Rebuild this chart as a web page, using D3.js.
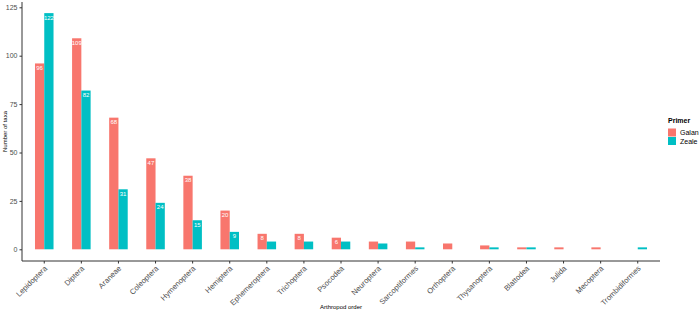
<!DOCTYPE html>
<html>
<head>
<meta charset="utf-8">
<script src="https://cdn.jsdelivr.net/npm/d3@7"></script>
<style>
  body { margin: 0; background: #fff; }
  text { font-family: "Liberation Sans", Arial, sans-serif; }
</style>
</head>
<body>
<div id="container"></div>
<script>
let orders = ["Lepidoptera", "Diptera", "Araneae", "Coleoptera", "Hymenoptera", "Hemiptera",
  "Ephemeroptera", "Trichoptera", "Psocodea", "Neuroptera", "Sarcoptiformes", "Orthoptera",
  "Thysanoptera", "Blattodea", "Julida", "Mecoptera", "Trombidiformes"];
let primers = ["Galan", "Zeale"];
let galan = [96, 109, 68, 47, 38, 20, 8, 8, 6, 4, 4, 3, 2, 1, 1, 1, null];
let zeale = [122, 82, 31, 24, 15, 9, 4, 4, 4, 3, 1, null, 1, 1, null, null, 1];
let yTicks = [0, 25, 50, 75, 100, 125];
let colors = ["#F8766D", "#00BFC4"];

let w = 700;
let h = 314;
let padL = 22, padR = 660, padT = 2, padB = 261;

let viz = d3.select("#container")
  .append("svg")
  .attr("width", w)
  .attr("height", h);

// x scale: discrete with 0.6 expansion like ggplot
let step = (padR - padL) / (orders.length - 1 + 1.2);
let xScale = d3.scaleBand().domain(orders)
  .range([padL + 0.1 * step, padR - 0.1 * step])
  .paddingInner(0).paddingOuter(0);
let inner = d3.scaleBand().domain(primers).range([0, step * 0.5]);

let yScale = d3.scaleLinear().domain([0, 125]).range([249.3, 7.3]);

let data = [];
orders.forEach(function(o, i) {
  [galan[i], zeale[i]].forEach(function(v, j) {
    if (v != null) data.push({ order: o, primer: primers[j], value: v, k: j });
  });
});

let bars = viz.append("g");
bars.selectAll("rect").data(data).enter().append("rect")
  .attr("x", function(d) { return xScale(d.order) + step * 0.25 + inner(d.primer); })
  .attr("width", inner.bandwidth())
  .attr("y", function(d) { return yScale(d.value); })
  .attr("height", function(d) { return yScale(0) - yScale(d.value); })
  .attr("fill", function(d) { return colors[d.k]; });

// value labels, only where the bar is tall enough to hold them
bars.selectAll("text").data(data.filter(function(d) { return d.value >= 5; })).enter().append("text")
  .attr("x", function(d) { return xScale(d.order) + step * 0.25 + inner(d.primer) + inner.bandwidth() / 2; })
  .attr("y", function(d) { return yScale(d.value) + 6.5; })
  .attr("text-anchor", "middle")
  .attr("font-size", 6)
  .attr("fill", "#fff")
  .text(function(d) { return d.value; });

// y axis
let yAxisGroup = viz.append("g").attr("transform", "translate(" + padL + ",0)")
  .call(d3.axisLeft(yScale).tickValues(yTicks).tickSize(2.5).tickPadding(2));
yAxisGroup.select(".domain").attr("d", "M0," + padT + "V" + padB).attr("stroke", "#333");
yAxisGroup.selectAll(".tick line").attr("stroke", "#333");
yAxisGroup.selectAll(".tick text").attr("font-size", 7).attr("fill", "#4d4d4d").attr("font-family", null);

// x axis
let xAxisGroup = viz.append("g").attr("transform", "translate(0," + padB + ")")
  .call(d3.axisBottom(xScale).tickSize(2.5).tickPadding(2));
xAxisGroup.select(".domain").attr("d", "M" + padL + ",0H" + padR).attr("stroke", "#333");
xAxisGroup.selectAll(".tick line").attr("stroke", "#333");
xAxisGroup.selectAll(".tick text")
  .attr("font-size", 7.6).attr("fill", "#4d4d4d").attr("font-family", null)
  .attr("text-anchor", "end")
  .attr("dy", "0.35em")
  .attr("transform", "translate(1.5,6) rotate(-45)")
  .attr("y", 0).attr("x", 0);

// axis titles
viz.append("text").attr("x", (padL + padR) / 2).attr("y", 309)
  .attr("text-anchor", "middle").attr("font-size", 6).attr("fill", "#000")
  .text("Arthropod order");
viz.append("text").attr("transform", "translate(7," + ((padT + padB) / 2) + ") rotate(-90)")
  .attr("text-anchor", "middle").attr("font-size", 6).attr("fill", "#000")
  .text("Number of taxa");

// legend
let legend = viz.append("g").attr("transform", "translate(668,0)");
legend.append("text").attr("x", 0).attr("y", 123).attr("font-size", 7)
  .attr("font-weight", "bold").text("Primer");
primers.forEach(function(p, i) {
  legend.append("rect").attr("x", 0).attr("y", 128.5 + i * 8.5).attr("width", 8).attr("height", 8)
    .attr("fill", colors[i]);
  legend.append("text").attr("x", 12).attr("y", 135.3 + i * 8.5).attr("font-size", 7)
    .attr("fill", "#000").text(p);
});
</script>
</body>
</html>
